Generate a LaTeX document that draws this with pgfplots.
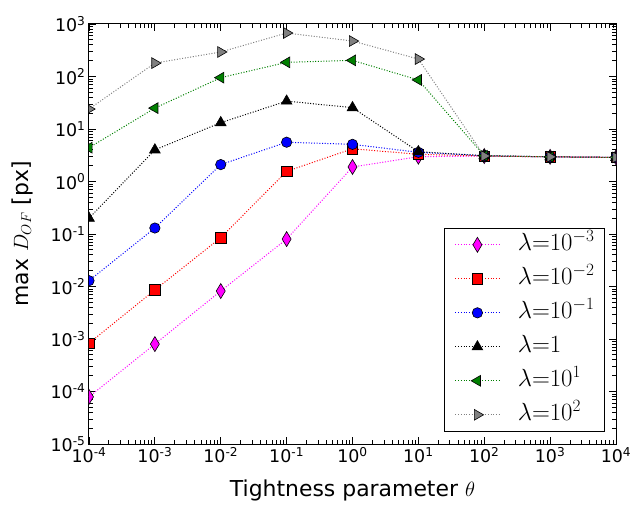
\documentclass[border=0pt]{standalone}
\usepackage{pgfplots}
\pgfplotsset{compat=1.18}
\usepackage{fontspec}
\setmainfont{DejaVu Sans}
\definecolor{mplgreen}{HTML}{008000}
\definecolor{mplgray}{HTML}{808080}
\definecolor{mplmagenta}{HTML}{FF00FF}
\definecolor{mplred}{HTML}{FF0000}
\definecolor{mplblue}{HTML}{0000FF}
\begin{document}
\begin{tikzpicture}
\path[use as bounding box] (-89bp,-63bp) rectangle (541bp,444bp);
\begin{axis}[
 at={(0,0)}, anchor=south west,
 xmode=log, ymode=log,
 width=527bp, height=420bp, scale only axis,
 xmin=1e-4, xmax=1e4, ymin=1e-5, ymax=1e3,
 xtick={1e-4,1e-3,1e-2,1e-1,1,1e1,1e2,1e3,1e4},
 xticklabels={10\textsuperscript{-4},10\textsuperscript{-3},10\textsuperscript{-2},10\textsuperscript{-1},10\textsuperscript{0},10\textsuperscript{1},10\textsuperscript{2},10\textsuperscript{3},10\textsuperscript{4}},
 ytick={1e-5,1e-4,1e-3,1e-2,1e-1,1,1e1,1e2,1e3},
 yticklabels={10\textsuperscript{-5},10\textsuperscript{-4},10\textsuperscript{-3},10\textsuperscript{-2},10\textsuperscript{-1},10\textsuperscript{0},10\textsuperscript{1},10\textsuperscript{2},10\textsuperscript{3}},
 minor xtick={2e-4,3e-4,4e-4,5e-4,6e-4,7e-4,8e-4,9e-4,2e-3,3e-3,4e-3,5e-3,6e-3,7e-3,8e-3,9e-3,2e-2,3e-2,4e-2,5e-2,6e-2,7e-2,8e-2,9e-2,2e-1,3e-1,4e-1,5e-1,6e-1,7e-1,8e-1,9e-1,2,3,4,5,6,7,8,9,20,30,40,50,60,70,80,90,200,300,400,500,600,700,800,900,2000,3000,4000,5000,6000,7000,8000,9000},
 minor ytick={2e-5,3e-5,4e-5,5e-5,6e-5,7e-5,8e-5,9e-5,2e-4,3e-4,4e-4,5e-4,6e-4,7e-4,8e-4,9e-4,2e-3,3e-3,4e-3,5e-3,6e-3,7e-3,8e-3,9e-3,2e-2,3e-2,4e-2,5e-2,6e-2,7e-2,8e-2,9e-2,2e-1,3e-1,4e-1,5e-1,6e-1,7e-1,8e-1,9e-1,2,3,4,5,6,7,8,9,20,30,40,50,60,70,80,90,200,300,400,500,600,700,800,900},
 tick label style={font=\fontsize{17.5}{17.5}\selectfont},
 xlabel={Tightness parameter $\theta$},
 ylabel={max $D_{OF}$ [px]},
 every axis x label/.style={at={(axis description cs:0.5,0)}, yshift=-46bp, anchor=center, font=\fontsize{22}{22}\selectfont},
 every axis y label/.style={at={(axis description cs:0,0.5)}, xshift=-67bp, rotate=90, anchor=center, font=\fontsize{22}{22}\selectfont},
 major tick length=7bp, minor tick length=4bp,
 tick style={black, line width=0.8bp},
 axis line style={line width=1bp},
 clip marker paths=true,
 legend style={at={(0.979,0.029)}, anchor=south east, font=\fontsize{24.5}{24.5}\selectfont, row sep=11bp, column sep=18bp, inner xsep=10bp, inner ysep=5bp, draw=black, line width=1bp,
   nodes={inner sep=0pt, text height=17bp, text depth=6bp}},
 legend cell align=left,
 legend image code/.code={\draw[mark repeat=2,mark phase=2,#1] plot coordinates {(0bp,0bp)(22bp,0bp)(44bp,0bp)};},
 every axis plot/.append style={dash pattern=on 1bp off 1.7bp, line width=1bp},
]
\addplot[mplmagenta, mark=diamond*, mark size=7.5bp, mark options={solid, draw=black, line width=0.6bp, fill=mplmagenta, xscale=0.8}] coordinates {(1e-4,7.9e-5)(1e-3,8.0e-4)(1e-2,8.2e-3)(1e-1,0.080)(1,1.89)(10,2.97)(100,3.05)(1000,2.95)(1e4,2.88)};
\addlegendentry{$\lambda{=}10^{-3}$}
\addplot[mplred, mark=square*, mark size=5.2bp, mark options={solid, draw=black, line width=0.6bp, fill=mplred}] coordinates {(1e-4,8.3e-4)(1e-3,8.6e-3)(1e-2,0.085)(1e-1,1.56)(1,4.2)(10,3.3)(100,3.05)(1e3,2.95)(1e4,2.88)};
\addlegendentry{$\lambda{=}10^{-2}$}
\addplot[mplblue, mark=*, mark size=5.2bp, mark options={solid, draw=black, line width=0.6bp, fill=mplblue}] coordinates {(1e-4,0.0129)(1e-3,0.13)(1e-2,2.1)(1e-1,5.6)(1,5.1)(10,3.6)(100,3.1)(1e3,2.95)(1e4,2.88)};
\addlegendentry{$\lambda{=}10^{-1}$}
\addplot[black, mark=triangle*, mark size=6.2bp, mark options={solid, draw=black, line width=0.6bp, fill=black}] coordinates {(1e-4,0.2)(1e-3,4.0)(1e-2,13.2)(1e-1,34)(1,25.5)(10,3.7)(100,3.1)(1e3,2.95)(1e4,2.88)};
\addlegendentry{$\lambda{=}1$}
\addplot[mplgreen, mark=triangle*, mark size=6.2bp, mark options={solid, draw=black, line width=0.6bp, fill=mplgreen, rotate=90}] coordinates {(1e-4,4.4)(1e-3,25)(1e-2,95)(1e-1,186)(1,203)(10,86)(100,3.1)(1e3,2.95)(1e4,2.88)};
\addlegendentry{$\lambda{=}10^{1}$}
\addplot[mplgray, mark=triangle*, mark size=6.2bp, mark options={solid, draw=black, line width=0.6bp, fill=mplgray, rotate=-90}] coordinates {(1e-4,24)(1e-3,180)(1e-2,293)(1e-1,674)(1,474)(10,215)(100,3.06)(1e3,2.95)(1e4,2.88)};
\addlegendentry{$\lambda{=}10^{2}$}
\end{axis}
\end{tikzpicture}
\end{document}
